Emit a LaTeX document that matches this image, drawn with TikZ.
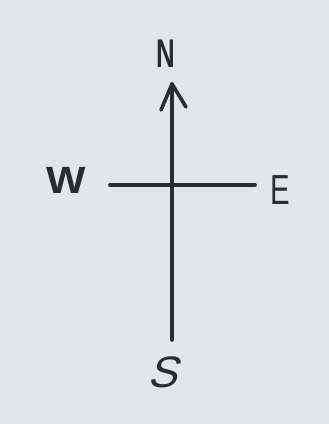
\documentclass[tikz,border=0pt]{standalone}
\usepackage{fontspec}
\setmainfont{Liberation Sans}
\definecolor{paper}{HTML}{E3E5E9}
\definecolor{ink}{HTML}{2A2C2E}
\begin{document}
\begin{tikzpicture}[x=1pt,y=-1pt,
  stroke/.style={draw=ink,line width=3.6pt,line cap=round},
  lbl/.style={text=ink,inner sep=0pt}]
\fill[paper] (0,0) rectangle (329,424);
\useasboundingbox (0,0) rectangle (329,424);
\coordinate (tip) at (172,84);
\coordinate (bot) at (172,340);
\coordinate (wl) at (110,185);
\coordinate (er) at (255,185);
\coordinate (lw) at (161,110);
\coordinate (rw) at (186,107);
\draw[stroke] (bot) -- (tip);
\draw[stroke,line join=round] (lw) -- (tip) -- (rw);
\draw[stroke] (wl) -- (er);
\node[lbl,font=\bfseries\fontsize{40}{40}\selectfont,xscale=0.65] (n) at (166,54) {N};
\node[lbl,font=\bfseries\fontsize{38}{38}\selectfont,xscale=1.1] (w) at (66,180) {W};
\node[lbl,font=\fontsize{42}{42}\selectfont,xscale=0.7] (e) at (280,190) {E};
\node[lbl,font=\fontsize{44}{44}\selectfont,xslant=0.3] (s) at (167,372) {S};
\end{tikzpicture}
\end{document}
